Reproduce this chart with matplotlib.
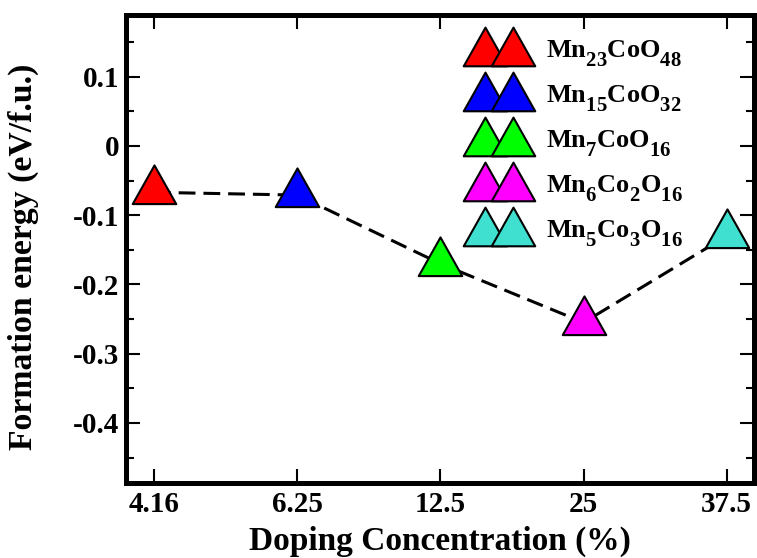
import matplotlib
matplotlib.use('Agg')
import matplotlib.pyplot as plt
from matplotlib.path import Path
from matplotlib.lines import Line2D
from matplotlib.ticker import FixedLocator, MultipleLocator, FixedFormatter

# ---- data ----
concentrations = ['4.16', '6.25', '12.5', '25', '37.5']
formation_energy = [-0.067, -0.071, -0.170, -0.255, -0.130]
compounds = [r'Mn$_{23}$CoO$_{48}$', r'Mn$_{15}$CoO$_{32}$', r'Mn$_{7}$CoO$_{16}$',
             r'Mn$_{6}$Co$_{2}$O$_{16}$', r'Mn$_{5}$Co$_{3}$O$_{16}$']
colors = ['#ff0000', '#0000ff', '#00ff00', '#ff00ff', '#40e0d0']
y_major_ticks = [-0.4, -0.3, -0.2, -0.1, 0.0, 0.1]
y_tick_labels = ['-0.4', '-0.3', '-0.2', '-0.1', '0', '0.1']

plt.rcParams['font.family'] = ['Liberation Serif', 'DejaVu Serif']
plt.rcParams['font.weight'] = 'bold'
plt.rcParams['mathtext.default'] = 'regular'

# larger, lower subscripts (as in the original Grace figure)
try:
    import matplotlib._mathtext as _mt
    _mt.SHRINK_FACTOR = 0.78
    _mt.FontConstantsBase.sub1 = 0.83
except Exception:
    pass

W, H = 757, 558
fig = plt.figure(figsize=(W / 100, H / 100), dpi=100)
ax = fig.add_axes([126 / W, 1 - 482.5 / H, (754 - 126) / W, (482.5 - 15) / H])

# triangle marker whose data point sits at the centroid
tri = Path([(0, 28), (-22.5, -12), (22.5, -12), (0, 28)],
           [Path.MOVETO, Path.LINETO, Path.LINETO, Path.CLOSEPOLY])
MS = 39
# legend version, shifted down relative to the text baseline
d = 6.4
tri_leg = Path([(0, 28 - d), (-22.5, -12 - d), (22.5, -12 - d), (0, 28 - d)],
               [Path.MOVETO, Path.LINETO, Path.LINETO, Path.CLOSEPOLY])
MS_LEG = MS * 22.5 / 28

x = list(range(len(concentrations)))
ax.plot(x, formation_energy, color='black', lw=2.2, ls=(0, (5.5, 2.6)), zorder=1)
handles = []
for xi, yi, c, lab in zip(x, formation_energy, colors, compounds):
    ax.plot([xi], [yi], ls='none', marker=tri, ms=MS, mfc=c, mec='black',
            mew=1.5, zorder=3, clip_on=False)
    handles.append(Line2D([], [], ls='none', marker=tri_leg, ms=MS_LEG, mfc=c,
                          mec='black', mew=1.5, label=lab))

ax.set_xlim(-0.195, 4.19)
ax.set_ylim(-0.486, 0.189)

ax.xaxis.set_major_locator(FixedLocator(x))
ax.xaxis.set_major_formatter(FixedFormatter(concentrations))
ax.yaxis.set_major_locator(FixedLocator(y_major_ticks))
ax.yaxis.set_major_formatter(FixedFormatter(y_tick_labels))
ax.yaxis.set_minor_locator(MultipleLocator(0.05))

ax.tick_params(which='both', direction='in', top=True, right=True, width=1.5,
               labelsize=21)
ax.tick_params(which='major', length=10, pad=5)
ax.tick_params(axis='x', which='major', pad=6)
ax.tick_params(which='minor', length=5.5)
for sp in ax.spines.values():
    sp.set_linewidth(3.6)

fig.text(440 / W, 8 / H, 'Doping Concentration (%)', ha='center', va='baseline',
         fontsize=24, fontweight='bold')
fig.text(23.5 / W, 1 - 256.5 / H, 'Formation energy (eV/f.u.)', ha='center',
         va='center', rotation=90, fontsize=24.3, fontweight='bold')

ax.legend(handles=handles, loc='upper left', bbox_to_anchor=(477.5 / W, 1 - 38 / H),
          bbox_transform=fig.transFigure, frameon=False, numpoints=2,
          handlelength=1.66, handletextpad=0.93, labelspacing=0.53,
          fontsize=19, borderpad=0, borderaxespad=0)

fig.savefig('out.png', dpi=100)
